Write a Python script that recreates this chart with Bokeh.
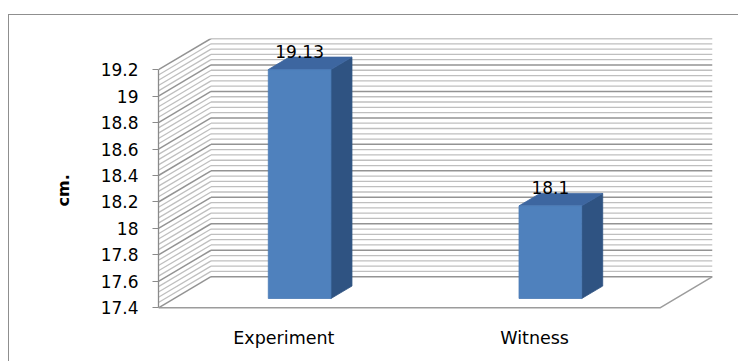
from bokeh.plotting import figure
from bokeh.models import FixedTicker, Title
from bokeh.embed import file_html
from bokeh.resources import INLINE
from bokeh.core.properties import value

# ---- data ----
categories = ["Experiment", "Witness"]
values = [19.13, 18.1]
value_labels = ["19.13", "18.1"]
y_ticks = [17.4, 17.6, 17.8, 18.0, 18.2, 18.4, 18.6, 18.8, 19.0, 19.2]
y_tick_labels = ["17.4", "17.6", "17.8", "18", "18.2", "18.4", "18.6", "18.8", "19", "19.2"]
y_axis_title = "cm."

# ---- geometry / style ----
y_min, y_max = y_ticks[0], y_ticks[-1]
minor_step = 0.04
DX = 0.2094      # depth offset in category units
DY = 0.2354      # depth offset in value units
BAR_W = 0.25
FRONT, BACK = 0.3, 0.7
PAD = 0.02
FONT = "DejaVu Sans"

p = figure(width=730, height=347,
           x_range=(0, len(categories) + DX), y_range=(y_min - PAD, y_max + DY),
           output_backend="svg", toolbar_location=None,
           min_border_left=149, min_border_right=27, min_border_top=23, min_border_bottom=52)
p.margin = (14, 0, 0, 8)
p.styles = {"border-left": "1.5px solid #8f8f8f", "border-top": "1.5px solid #8f8f8f"}
p.xgrid.visible = False
p.ygrid.visible = False
p.outline_line_color = None
p.background_fill_color = "white"
p.border_fill_color = "white"

# back wall + side wall gridlines
n_levels = int(round((y_max - y_min) / minor_step)) + 1
levels = [y_min + k * minor_step for k in range(n_levels)]
major = [k % 5 == 0 for k in range(n_levels)]
for is_major, color, lw in [(False, "#bfbfbf", 1.3), (True, "#939393", 1.5)]:
    lv = [l for l, m in zip(levels, major) if m == is_major]
    p.multi_line(xs=[[DX, len(categories) + DX] for _ in lv],
                 ys=[[l + DY, l + DY] for l in lv], line_color=color, line_width=lw)
    p.multi_line(xs=[[0, DX] for _ in lv],
                 ys=[[l, l + DY] for l in lv], line_color=color, line_width=lw)

# floor edges
nc = len(categories)
p.line(x=[0, nc, nc + DX], y=[y_min, y_min, y_min + DY], line_color="#9c9c9c", line_width=1.5)

# bars (3D prisms)
fx, fy, tx, ty, sx, sy = [], [], [], [], [], []
lx, ly = [], []
for i, v in enumerate(values):
    c = i + 0.5
    x0 = c - BAR_W / 2 + FRONT * DX
    x1 = x0 + BAR_W
    yb = y_min + FRONT * DY
    yt = v + FRONT * DY
    dx = (BACK - FRONT) * DX
    dy = (BACK - FRONT) * DY
    fx.append([x0, x1, x1, x0]); fy.append([yb, yb, yt, yt])
    tx.append([x0, x1, x1 + dx, x0 + dx]); ty.append([yt, yt, yt + dy, yt + dy])
    sx.append([x1, x1 + dx, x1 + dx, x1]); sy.append([yb, yb + dy, yt + dy, yt])
    lx.append(c + FRONT * DX); ly.append(v + BACK * DY)

p.patches(xs=sx, ys=sy, fill_color="#2f5382", line_color="#2f5382", line_width=0.8)
p.patches(xs=tx, ys=ty, fill_color="#3d66a0", line_color="#3d66a0", line_width=0.8)
p.patches(xs=fx, ys=fy, fill_color="#4f81bd", line_color="#4a7ab5", line_width=0.8)

p.text(x=lx, y=ly, text=value_labels, text_align="center", text_baseline="alphabetic",
       y_offset=-6, text_font=value(FONT), text_font_size="17px", text_color="black")

# y axis
p.yaxis.ticker = FixedTicker(ticks=y_ticks)
p.yaxis.major_label_overrides = dict(zip(y_ticks, y_tick_labels))
p.yaxis.bounds = (y_min, y_max)
p.yaxis.axis_line_color = "#8a8a8a"
p.yaxis.axis_line_width = 1.3
p.yaxis.major_tick_line_color = "#8a8a8a"
p.yaxis.major_tick_out = 6
p.yaxis.major_tick_in = 0
p.yaxis.minor_tick_line_color = None
p.yaxis.major_label_standoff = 14
p.yaxis.major_label_text_font = FONT
p.yaxis.major_label_text_font_size = "17px"
p.yaxis.major_label_text_color = "black"

# y axis title, placed beside the axis
p.add_layout(Title(text=y_axis_title, align="left", offset=104, vertical_align="middle",
                   standoff=48, text_font=FONT, text_font_style="bold",
                   text_font_size="16px", text_color="black"), "left")

# x axis
p.xaxis.ticker = FixedTicker(ticks=[i + 0.5 for i in range(nc)])
p.xaxis.major_label_overrides = {i + 0.5: c for i, c in enumerate(categories)}
p.xaxis.axis_line_color = None
p.xaxis.major_tick_line_color = None
p.xaxis.minor_tick_line_color = None
p.xaxis.major_label_standoff = 11
p.xaxis.major_label_text_font = FONT
p.xaxis.major_label_text_font_size = "17.5px"
p.xaxis.major_label_text_color = "black"

open("out.html", "w").write(file_html(p, INLINE))
